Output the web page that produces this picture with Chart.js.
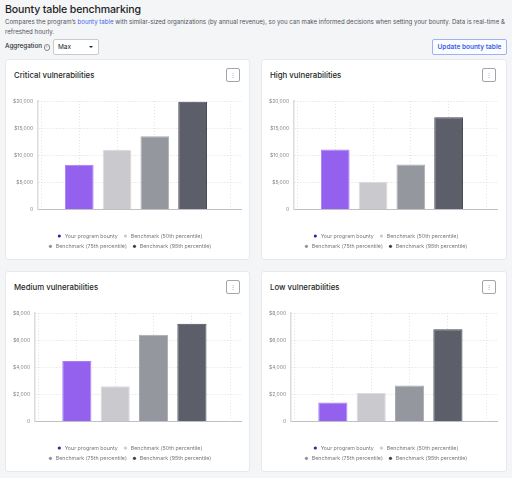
<!DOCTYPE html>
<html>
<head>
<meta charset="utf-8">
<script src="https://cdn.jsdelivr.net/npm/chart.js@4.4.1/dist/chart.umd.min.js"></script>
<style>
  html, body { margin: 0; padding: 0; }
  body { width: 512px; height: 478px; background: #f4f5f7; font-family: Inter, "Noto Sans", sans-serif; position: relative; overflow: hidden; }
  #title { position: absolute; left: 5px; top: 3px; font-size: 10.6px; letter-spacing: -0.15px; font-weight: 500; color: #1d1f24; white-space: nowrap; }
  #sub { position: absolute; left: 5px; top: 17px; width: 507px; font-size: 6.1px; line-height: 10px; color: #50535a; }
  #sub a { color: #3d63e8; text-decoration: none; }
  #agg { position: absolute; left: 5px; top: 42px; font-size: 6.3px; color: #2c2e33; font-weight: 500; white-space: nowrap; }
  #agg .info { display: inline-block; width: 4.5px; height: 4.5px; border: 0.7px solid #888; border-radius: 50%; font-size: 3.5px; line-height: 4.5px; text-align: center; color: #777; margin-left: 1.5px; vertical-align: 0px; }
  #sel { position: absolute; left: 53px; top: 39px; width: 44px; height: 14px; background: #fff; border: 1px solid #c9cace; border-radius: 2px; font-size: 6.5px; color: #222; }
  #sel .v { position: absolute; left: 4px; top: 3px; }
  #sel .c { position: absolute; left: 35px; top: 6px; width: 0; height: 0; border-left: 2px solid transparent; border-right: 2px solid transparent; border-top: 2px solid #222; }
  #btn { position: absolute; left: 432px; top: 39px; width: 73px; height: 14px; border: 1px solid #9fb2f6; border-radius: 2px; background: #fbfcff; color: #3c5fe6; font-size: 6.5px; font-weight: 600; text-align: center; line-height: 14px; white-space: nowrap; }
  .card { position: absolute; width: 245px; height: 200px; background: #fff; border: 1px solid #e8e9ec; border-radius: 3px; box-sizing: border-box; }
  .card .t { position: absolute; left: 8px; top: 10px; font-size: 7.8px; font-weight: 500; color: #1d1f24; white-space: nowrap; }
  .card .k { position: absolute; left: 220px; top: 8px; width: 14px; height: 14px; box-sizing: border-box; border: 1px solid #a4a5aa; border-radius: 2px; font-size: 6px; line-height: 12px; text-align: center; color: #8a8b90; }
  .card .cw { position: absolute; left: 0; top: 28px; width: 245px; height: 171px; }
</style>
</head>
<body>
<div id="title">Bounty table benchmarking</div>
<div id="sub">Compares the program’s <a>bounty table</a> with similar-sized organizations (by annual revenue), so you can make informed decisions when setting your bounty. Data is real-time &amp; refreshed hourly.</div>
<div id="agg">Aggregation<span class="info">i</span></div>
<div id="sel"><span class="v">Max</span><span class="c"></span></div>
<div id="btn">Update bounty table</div>

<div class="card" style="left:5px; top:59px; height:201px;">
  <div class="t">Critical vulnerabilities</div><div class="k">⋮</div>
  <div class="cw"><canvas id="c1"></canvas></div>
</div>
<div class="card" style="left:261px; top:59px; width:246px; height:201px;">
  <div class="t">High vulnerabilities</div><div class="k">⋮</div>
  <div class="cw"><canvas id="c2"></canvas></div>
</div>
<div class="card" style="left:5px; top:271px; height:201px;">
  <div class="t">Medium vulnerabilities</div><div class="k">⋮</div>
  <div class="cw"><canvas id="c3"></canvas></div>
</div>
<div class="card" style="left:261px; top:271px; width:246px; height:201px;">
  <div class="t">Low vulnerabilities</div><div class="k">⋮</div>
  <div class="cw"><canvas id="c4"></canvas></div>
</div>

<script>
// ---- data ----
const seriesNames = ['Your program bounty', 'Benchmark (50th percentile)', 'Benchmark (75th percentile)', 'Benchmark (95th percentile)'];
const criticalValues = [8250, 11000, 13500, 19850];
const highValues = [11050, 5100, 8300, 17000];
const mediumValues = [4450, 2600, 6400, 7200];
const lowValues = [1400, 2100, 2650, 6800];
const largeTicks = [0, 5000, 10000, 15000, 20000];
const smallTicks = [0, 2000, 4000, 6000, 8000];

// ---- styles ----
const barColors = ['#9461ef', '#c9c9ce', '#95979f', '#5c5e6a'];
const barBorders = ['#a67ff7', '#dcdce0', '#a9abb1', '#464853'];
const legendColors = ['#2d1fa6', '#c9c9ce', '#8e9098', '#3f414c'];
const legendRowWidth = 185;
const legendShift = 5;

// wrap legend rows at a narrower width than the canvas (legend stays centred)
const legendWrap = {
  id: 'legendWrap',
  afterInit(chart) {
    const lg = chart.legend;
    if (!lg) return;
    const fit = lg.fit.bind(lg);
    lg.fit = function () {
      const full = this.maxWidth;
      this.maxWidth = Math.min(full, legendRowWidth);
      fit();
      this.maxWidth = full;
      this.width = full;
    };
  },
  afterLayout(chart) {
    const lg = chart.legend;
    if (!lg) return;
    lg.left += legendShift;
    lg.right += legendShift;
  }
};

function makeChart(id, values, ticks) {
  const datasets = seriesNames.map((name, i) => ({
    label: name,
    data: [{ x: i + 1, y: values[i] }],
    backgroundColor: barColors[i],
    borderColor: barBorders[i],
    borderWidth: 1,
    grouped: false,
    barPercentage: 0.76,
    categoryPercentage: 1
  }));
  new Chart(document.getElementById(id), {
    type: 'bar',
    data: { datasets },
    plugins: [legendWrap],
    options: {
      responsive: true,
      maintainAspectRatio: false,
      animation: false,
      layout: { padding: { left: 2, right: 10, top: 13, bottom: 0 } },
      plugins: {
        tooltip: { enabled: false },
        legend: {
          position: 'bottom',
          labels: {
            usePointStyle: true,
            pointStyle: 'circle',
            boxHeight: 2.2,
            boxWidth: 6,
            padding: 5,
            color: '#77787d',
            font: { family: 'Inter', size: 5.3 },
            generateLabels(chart) {
              const items = Chart.defaults.plugins.legend.labels.generateLabels(chart);
              items.forEach((it, i) => { it.fillStyle = legendColors[i]; it.strokeStyle = legendColors[i]; it.lineWidth = 0; });
              return items;
            }
          }
        }
      },
      scales: {
        x: {
          type: 'linear',
          offset: false,
          min: -0.09,
          max: 5.28,
          afterFit(scale) { scale.height = 19; },
          grid: { offset: false, color: '#e2e3e7', drawTicks: false },
          border: { display: true, color: '#bfc0c4', width: 1, dash: [1, 2] },
          ticks: { display: false, stepSize: 1, includeBounds: false }
        },
        y: {
          min: 0,
          max: ticks[ticks.length - 1],
          afterBuildTicks(scale) { scale.ticks = ticks.map(v => ({ value: v })); },
          grid: { color: '#dcdde1', drawTicks: false },
          border: { display: true, color: '#dcdcdf', width: 1.5, dash: [1, 2] },
          ticks: {
            padding: 5,
            color: '#85868b',
            font: { family: 'Inter', size: 5 },
            callback: v => v === 0 ? '0' : '$' + v.toLocaleString('en-US')
          }
        }
      }
    }
  });
}

makeChart('c1', criticalValues, largeTicks);
makeChart('c2', highValues, largeTicks);
makeChart('c3', mediumValues, smallTicks);
makeChart('c4', lowValues, smallTicks);
</script>
</body>
</html>
